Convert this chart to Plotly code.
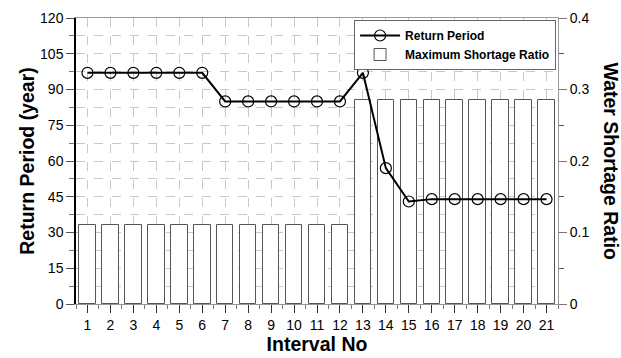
import plotly.graph_objects as go

intervals = list(range(1, 22))
return_period = [97, 97, 97, 97, 97, 97, 85, 85, 85, 85, 85, 85, 97, 57, 43, 44, 44, 44, 44, 44, 44]
shortage_ratio = [0.111]*12 + [0.286]*9

fig = go.Figure()
fig.add_trace(go.Bar(
    x=intervals, y=shortage_ratio, name="Maximum Shortage Ratio",
    marker=dict(color="white", line=dict(color="#555", width=1)),
    width=0.72, yaxis="y", showlegend=True,
))
fig.add_trace(go.Scatter(
    x=intervals, y=return_period, name="Return Period", yaxis="y2",
    mode="lines+markers",
    line=dict(color="black", width=2),
    marker=dict(symbol="circle-open", size=11, color="black", line=dict(width=1.2)),
))

fig.update_layout(
    width=621, height=358,
    margin=dict(l=76, r=63, t=18, b=54),
    plot_bgcolor="white", paper_bgcolor="white",
    font=dict(family="Arial, Liberation Sans, sans-serif", size=14, color="black"),
    legend_traceorder="reversed",
    xaxis=dict(
        range=[0.5, 21.5], tickmode="array", tickvals=intervals, ticktext=[str(i) for i in intervals],
        showgrid=True, gridcolor="#c8c8c8", griddash="dash", gridwidth=1,
        ticks="outside", ticklen=8, tickcolor="#333",
        minor=dict(dtick=0.5, tick0=0.5, ticks="outside", ticklen=4, tickcolor="#777", showgrid=False),
        showline=True, linecolor="#999", linewidth=1, mirror=True,
        title=dict(text="<b>Interval No</b>", font=dict(size=19.5), standoff=4),
        zeroline=False, automargin=False,
    ),
    yaxis=dict(
        range=[0, 0.4], side="right", dtick=0.1, tick0=0,
        tickformat="~g",
        showgrid=False,
        ticks="outside", ticklen=8, tickcolor="#777",
        minor=dict(dtick=0.05, ticks="outside", ticklen=5, tickcolor="#555", showgrid=False),
        showline=True, linecolor="#999", linewidth=1,
        zeroline=False, automargin=False,
    ),
    yaxis2=dict(
        range=[0, 120], side="left", overlaying="y", dtick=15, tick0=0,
        showgrid=True, gridcolor="#c8c8c8", griddash="dash",
        ticks="outside", ticklen=8, tickcolor="#555",
        minor=dict(dtick=7.5, ticks="outside", ticklen=5, tickcolor="#777",
                   showgrid=True, gridcolor="#c8c8c8", griddash="dash"),
        showline=True, linecolor="black", linewidth=1.5,
        title=dict(text="<b>Return Period (year)</b>", font=dict(size=19.5), standoff=0),
        zeroline=False, automargin=False,
    ),
    legend=dict(
        x=0.996, y=0.993, xanchor="right", yanchor="top",
        bgcolor="white", bordercolor="#666", borderwidth=1,
        font=dict(size=12, color="black", weight="bold"),
        itemwidth=40, tracegroupgap=0,
    ),
    bargap=0,
    annotations=[dict(
        text="<b>Water Shortage Ratio</b>", textangle=90, xref="paper", yref="paper",
        x=1.136, y=0.5, showarrow=False, font=dict(size=19.5),
    )],
)

fig.write_html("out.html")
